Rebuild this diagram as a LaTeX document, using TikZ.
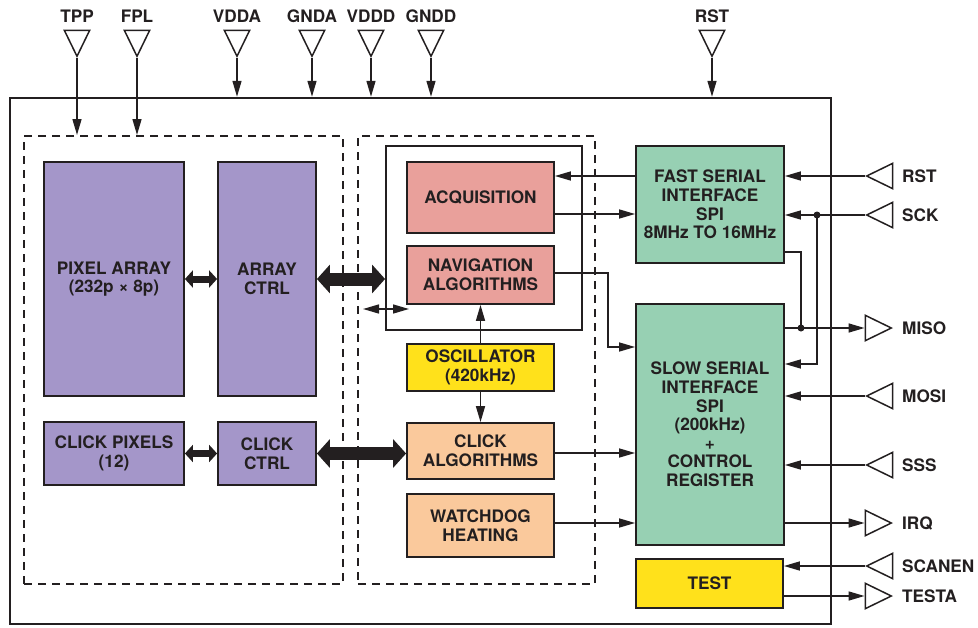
\documentclass[tikz,border=0pt]{standalone}
\usepackage{fontspec}
\setmainfont{TeX Gyre Heros}
\usepackage{xcolor}
\usetikzlibrary{shapes.geometric,arrows.meta}
\definecolor{pixPurple}{HTML}{A496C9}
\definecolor{algPink}{HTML}{E9A09B}
\definecolor{spiGreen}{HTML}{97D0B3}
\definecolor{oscYellow}{HTML}{FFE11B}
\definecolor{clkPeach}{HTML}{FAC99C}
\definecolor{ink}{HTML}{231F20}
\tikzset{every node/.style={font=\fontsize{17.2}{18.6}\selectfont\bfseries,text=ink},
	wire/.style={draw=ink,line width=1.5pt},
	sig/.style={wire,-{Triangle[length=16pt,width=9pt]}},
	sigboth/.style={wire,{Triangle[length=16pt,width=9pt]}-{Triangle[length=16pt,width=9pt]}},
	bus/.style={draw=ink,line width=13pt,{Triangle[length=13pt,width=28pt]}-{Triangle[length=13pt,width=28pt]}},
	smallbus/.style={draw=ink,line width=7pt,{Triangle[length=8pt,width=17pt]}-{Triangle[length=8pt,width=17pt]}}}
\tikzstyle{block}=[rectangle,draw=ink,line width=1.8pt,align=center,inner sep=0pt]
\tikzstyle{group}=[rectangle,draw=ink,line width=2pt,dash pattern=on 8pt off 6pt]
\tikzstyle{pinIn}=[isosceles triangle,isosceles triangle apex angle=52,draw=ink,line width=1.5pt,fill=white,inner sep=0pt,minimum height=26pt]
\tikzstyle{pinName}=[inner sep=0pt]

\begin{document}
\begin{tikzpicture}[x=1pt,y=-1pt]
	\useasboundingbox (0,0) rectangle (978,627);
	% chip outline and dashed groups
	\node at (420.5,361) [rectangle,draw=ink,line width=2.5pt,minimum width=821pt,minimum height=526pt] (chip) {};
	\node at (183.5,360) [group,minimum width=319pt,minimum height=448pt] (sensorgrp) {};
	\node at (476.5,360) [group,minimum width=237pt,minimum height=448pt] (procgrp) {};
	\node at (484,238) [block,minimum width=196pt,minimum height=184pt] (navgrp) {};

	% blocks
	\node at (114,279) [block,fill=pixPurple,minimum width=140pt,minimum height=234pt] (pix) {PIXEL ARRAY\\(232p × 8p)};
	\node at (267,279) [block,fill=pixPurple,minimum width=98pt,minimum height=234pt] (actrl) {ARRAY\\CTRL};
	\node at (114,453.5) [block,fill=pixPurple,minimum width=140pt,minimum height=63pt] (cpix) {CLICK PIXELS\\(12)};
	\node at (267,453.5) [block,fill=pixPurple,minimum width=98pt,minimum height=63pt] (cctrl) {CLICK\\CTRL};
	\node at (480.5,197.5) [block,fill=algPink,minimum width=147pt,minimum height=71pt] (acq) {ACQUISITION};
	\node at (480.5,275) [block,fill=algPink,minimum width=147pt,minimum height=58pt] (nav) {NAVIGATION\\ALGORITHMS};
	\node at (480.5,367.5) [block,fill=oscYellow,minimum width=147pt,minimum height=47pt] (osc) {OSCILLATOR\\(420kHz)};
	\node at (480.5,451) [block,fill=clkPeach,minimum width=147pt,minimum height=56pt] (calg) {CLICK\\ALGORITHMS};
	\node at (480.5,525.5) [block,fill=clkPeach,minimum width=147pt,minimum height=63pt] (wdog) {WATCHDOG\\HEATING};
	\node at (710,204.5) [block,fill=spiGreen,minimum width=148pt,minimum height=117pt] (fsi) {FAST SERIAL\\INTERFACE\\SPI\\8MHz TO 16MHz};
	\node at (710,424.5) [block,fill=spiGreen,minimum width=148pt,minimum height=241pt] (ssi) {SLOW SERIAL\\INTERFACE\\SPI\\(200kHz)\\+\\CONTROL\\REGISTER};
	\node at (709.5,583.5) [block,fill=oscYellow,minimum width=147pt,minimum height=49pt] (test) {TEST};

	% top pins
	\node at (77,58) [pinIn,shape border rotate=270,anchor=apex] (tpp) {};
	\node at (137,58) [pinIn,shape border rotate=270,anchor=apex] (fpl) {};
	\node at (237,58) [pinIn,shape border rotate=270,anchor=apex] (vdda) {};
	\node at (312,58) [pinIn,shape border rotate=270,anchor=apex] (gnda) {};
	\node at (371,58) [pinIn,shape border rotate=270,anchor=apex] (vddd) {};
	\node at (431,58) [pinIn,shape border rotate=270,anchor=apex] (gndd) {};
	\node at (712,58) [pinIn,shape border rotate=270,anchor=apex] (rstTop) {};
	\node at (77,16) [pinName] (tppL) {TPP};
	\node at (137,16) [pinName] (fplL) {FPL};
	\node at (237,16) [pinName] (vddaL) {VDDA};
	\node at (312,16) [pinName] (gndaL) {GNDA};
	\node at (371,16) [pinName] (vdddL) {VDDD};
	\node at (431,16) [pinName] (gnddL) {GNDD};
	\node at (712,16) [pinName] (rstTopL) {RST};

	% right pins
	\node at (865,176) [pinIn,shape border rotate=180,anchor=apex] (rstIn) {};
	\node at (865,215) [pinIn,shape border rotate=180,anchor=apex] (sck) {};
	\node at (893,328) [pinIn,anchor=apex] (miso) {};
	\node at (865,396) [pinIn,shape border rotate=180,anchor=apex] (mosi) {};
	\node at (865,465) [pinIn,shape border rotate=180,anchor=apex] (sss) {};
	\node at (893,523) [pinIn,anchor=apex] (irq) {};
	\node at (865,566) [pinIn,shape border rotate=180,anchor=apex] (scanen) {};
	\node at (893,596) [pinIn,anchor=apex] (testa) {};
	\node at (902,176) [pinName,anchor=west] (rstInL) {RST};
	\node at (902,215) [pinName,anchor=west] (sckL) {SCK};
	\node at (902,328) [pinName,anchor=west] (misoL) {MISO};
	\node at (902,396) [pinName,anchor=west] (mosiL) {MOSI};
	\node at (902,465) [pinName,anchor=west] (sssL) {SSS};
	\node at (902,523) [pinName,anchor=west] (irqL) {IRQ};
	\node at (902,566) [pinName,anchor=west] (scanenL) {SCANEN};
	\node at (902,596) [pinName,anchor=west] (testaL) {TESTA};

	\coordinate (busL) at (363,309);
	\coordinate (busR) at (409,309);
	\coordinate (navbend) at (608,347);
	\coordinate (sckj) at (817,215);
	\coordinate (misoj) at (801,328);

	% supply and test inputs
	\draw[sig] (tpp.apex) -- (tpp.apex |- sensorgrp.north);
	\draw[sig] (fpl.apex) -- (fpl.apex |- sensorgrp.north);
	\draw[sig] (vdda.apex) -- (vdda.apex |- chip.north);
	\draw[sig] (gnda.apex) -- (gnda.apex |- chip.north);
	\draw[sig] (vddd.apex) -- (vddd.apex |- chip.north);
	\draw[sig] (gndd.apex) -- (gndd.apex |- chip.north);
	\draw[sig] (rstTop.apex) -- (rstTop.apex |- chip.north);

	% buses
	\draw[smallbus] (pix.east) -- (actrl.west);
	\draw[smallbus] (cpix.east) -- (cctrl.west);
	\draw[bus] (actrl.east) -- (actrl.east -| navgrp.west);
	\draw[bus] (cctrl.east) -- (cctrl.east -| calg.west);
	\draw[sigboth] (busL) -- (busR);
	\draw[sig] (osc.north) -- (nav.south);
	\draw[sig] (osc.south) -- (calg.north);

	% processing to serial interfaces
	\draw[sig] (fsi.west |- 0,176) -- (acq.east |- 0,176);
	\draw[sig] (acq.east |- 0,214) -- (fsi.west |- 0,214);
	\draw[sig] (nav.east |- 0,273) -| (navbend) -- (ssi.west |- navbend);
	\draw[sig] (calg.east |- 0,453) -- (ssi.west |- 0,453);
	\draw[sig] (wdog.east |- 0,523) -- (ssi.west |- 0,523);

	% serial pins
	\draw[sig] (rstIn.apex) -- (rstIn.apex -| fsi.east);
	\draw[sig] (sck.apex) -- (sck.apex -| fsi.east);
	\draw[sig] (sckj) |- (ssi.east |- 0,364);
	\draw[wire] (fsi.east |- 0,252) -| (misoj);
	\draw[sig] (ssi.east |- misoj) -- (miso.west);
	\draw[sig] (mosi.apex) -- (mosi.apex -| ssi.east);
	\draw[sig] (sss.apex) -- (sss.apex -| ssi.east);
	\draw[sig] (ssi.east |- irq.west) -- (irq.west);
	\draw[sig] (scanen.apex) -- (scanen.apex -| test.east);
	\draw[sig] (test.east |- testa.west) -- (testa.west);
	\fill[ink] (sckj) circle (3.5pt);
	\fill[ink] (misoj) circle (3.5pt);
\end{tikzpicture}
\end{document}
